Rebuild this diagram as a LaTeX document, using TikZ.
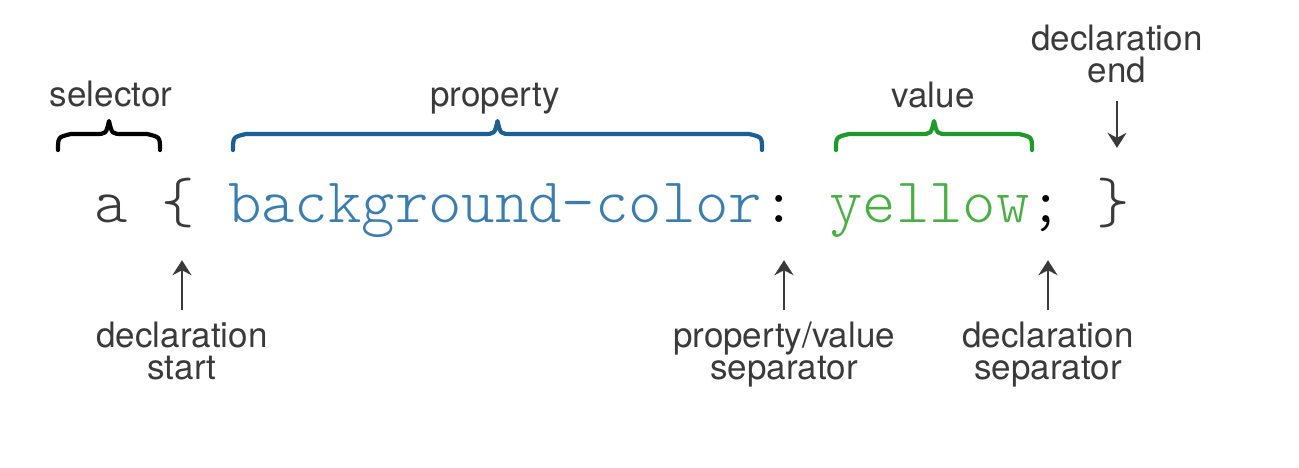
\documentclass[tikz,border=0pt]{standalone}
\usepackage{fontspec}
\setmainfont{TeX Gyre Heros}
\usepackage{tikz}
\usetikzlibrary{arrows.meta, positioning}
\definecolor{labelgray}{HTML}{3A3A3A}
\definecolor{codeblack}{HTML}{3A3A3A}
\definecolor{codeblue}{HTML}{3A7DAE}
\definecolor{braceblue}{HTML}{1D5F95}
\definecolor{codegreen}{HTML}{4CAF46}
\definecolor{bracegreen}{HTML}{1F9A2A}
\newcommand{\lblfont}{\fontsize{35}{32}\selectfont}
\newcommand{\codefont}{\fontsize{63.6}{66}\ttfamily\fontseries{l}\selectfont}
\tikzset{lbl/.style={font=\lblfont, text=labelgray, align=center, inner sep=0pt},
  code/.style={font=\codefont, inner sep=0pt, anchor=base, text height=40pt, text depth=12pt},
  arr/.style={-{Stealth[length=15pt,width=19pt,inset=5pt]}, line width=2.5pt, draw=labelgray},
  curly/.style={line width=4.2pt, line cap=round, line join=round}}
% curly brace over a span: colour, left x, right x
\newcommand{\spanbrace}[3]{%
  \draw[curly,#1] (#2,150) .. controls (#2,137) .. ({#2+13},134)
    -- ({(#2+#3)/2-14},134) .. controls ({(#2+#3)/2-3},134) .. ({(#2+#3)/2},121)
    .. controls ({(#2+#3)/2+3},134) .. ({(#2+#3)/2+14},134)
    -- ({#3-13},134) .. controls (#3,137) .. (#3,150);}
\begin{document}
\begin{tikzpicture}[x=1pt,y=-1pt]
\useasboundingbox[fill=white] (0,0) rectangle (1299,467);
% the rule
\node[code, text=codeblack] (sel) at (111.1,222) {a};
\node[code, text=codeblack] (open) at (177.8,222) {\{};
\node[code, text=codeblue] (prop) at (495.2,222) {background-color};
\node[code, text=black] (colon) at (779.1,222) {:};
\node[code, text=codegreen] (val) at (929.4,222) {yellow};
\node[code, text=black] (semi) at (1046.3,222) {;};
\node[code, text=codeblack] (close) at (1113.1,222) {\}};
% labels above
\node[lbl, anchor=base] (selname) at (111,106) {selector};
\node[lbl, anchor=base] (propname) at (495,106) {property};
\node[lbl, anchor=base] (valname) at (933,107) {value};
\node[lbl, anchor=north] (dend) at (1117,25) {declaration\\end};
% labels below
\node[lbl, anchor=north] (dstart) at (182,322) {declaration\\start};
\node[lbl, anchor=north] (pvsep) at (784,322) {property/value\\separator};
\node[lbl, anchor=north] (dsep) at (1048,322) {declaration\\separator};
% braces
\spanbrace{black}{58}{160}
\spanbrace{braceblue}{233}{762}
\spanbrace{bracegreen}{836}{1032}
% arrows
\draw[arr, shorten <=18pt, shorten >=34pt] (dend.south) -- (dend.south |- close.north);
\draw[arr, shorten <=12pt, shorten >=26pt] (dstart.north) -- (dstart.north |- open.south);
\draw[arr, shorten <=12pt, shorten >=26pt] (pvsep.north) -- (pvsep.north |- colon.south);
\draw[arr, shorten <=12pt, shorten >=26pt] (dsep.north) -- (dsep.north |- semi.south);
\end{tikzpicture}
\end{document}
